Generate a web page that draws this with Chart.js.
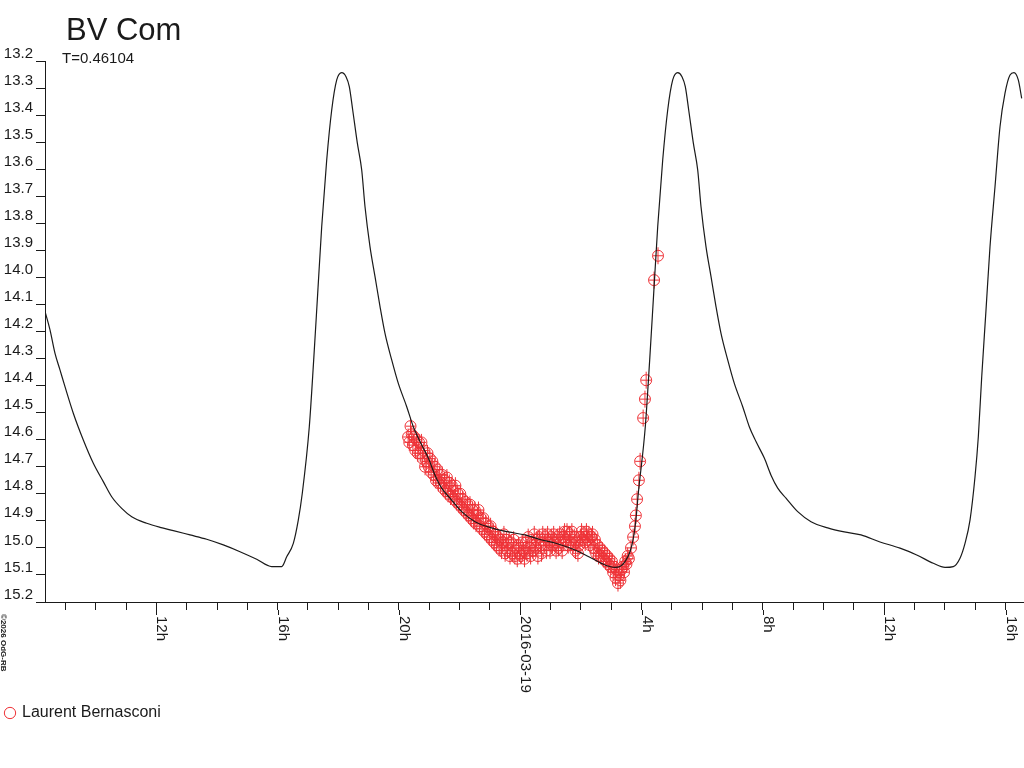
<!DOCTYPE html>
<html>
<head>
<meta charset="utf-8">
<script src="https://cdn.jsdelivr.net/npm/chart.js@4.4.1/dist/chart.umd.min.js"></script>
<style>html,body{margin:0;padding:0;background:#fff;overflow:hidden}#c{display:block}</style>
</head>
<body>
<canvas id="c" width="1024" height="768" style="width:1024px;height:768px"></canvas>
<script>
const chartTitle = 'BV Com';
const chartSubtitle = 'T=0.46104';
const observerName = 'Laurent Bernasconi';
const copyrightText = '\u00A92026 OdG-RB';

// x = hours relative to 2016-03-19 00:00 UT, y = magnitude
const xMinHour = -15.671;
const xMaxHour = 16.607;
const yMinMag = 13.2;
const yMaxMag = 15.2;
const yStepMag = 0.1;

const xTickHours = [-15,-14,-13,-12,-11,-10,-9,-8,-7,-6,-5,-4,-3,-2,-1,0,1,2,3,4,5,6,7,8,9,10,11,12,13,14,15,16];
const xLabelHours = [-12,-8,-4,0,4,8,12,16];
const xLabelTexts = ['12h','16h','20h','2016-03-19','4h','8h','12h','16h'];

const curveTimes = [
 -15.671,-15.506,-15.341,-15.177,-15.012,-14.738,-14.408,-14.078,-13.749,-13.472,
 -13.142,-12.812,-12.318,-11.879,-11.441,-10.890,-10.340,-9.792,-9.242,-8.691,
 -8.197,-7.867,-7.702,-7.484,-7.320,-7.188,-6.957,-6.812,-6.680,-6.548,
 -6.383,-6.218,-6.053,-5.888,-5.746,-5.638,-5.526,-5.374,-5.229,-5.120,
 -4.955,-4.790,-4.625,-4.461,-4.240,-4.022,-3.745,-3.528,-3.307,-3.033,
 -2.812,-2.592,-2.318,-1.932,-1.494,-0.943,-0.396,0.155,0.650,1.144,
 1.803,2.354,2.793,3.122,3.287,3.452,3.617,3.726,3.805,3.891,
 4.121,4.266,4.398,4.530,4.695,4.860,5.025,5.190,5.331,5.440,
 5.552,5.704,5.849,5.958,6.123,6.288,6.452,6.617,6.838,7.056,
 7.333,7.550,7.771,8.045,8.266,8.487,8.760,9.146,9.585,10.135,
 10.682,11.233,11.860,12.519,13.070,13.617,14.003,14.276,14.497,14.662,
 14.827,14.992,15.101,15.213,15.354,15.486,15.651,15.816,15.981,16.146,
 16.277,16.419,16.531
];
const curveMags = [
 14.126,14.194,14.281,14.342,14.404,14.502,14.601,14.687,14.755,14.811,
 14.854,14.885,14.909,14.924,14.936,14.952,14.968,14.989,15.014,15.042,
 15.069,15.069,15.033,14.983,14.897,14.798,14.552,14.305,14.059,13.813,
 13.566,13.381,13.270,13.243,13.258,13.295,13.381,13.503,13.603,13.739,
 13.887,13.997,14.108,14.207,14.305,14.392,14.478,14.552,14.607,14.668,
 14.731,14.779,14.816,14.866,14.903,14.926,14.941,14.952,14.969,14.982,
 15.008,15.038,15.063,15.072,15.069,15.051,15.014,14.965,14.903,14.798,
 14.552,14.305,14.059,13.813,13.566,13.381,13.270,13.243,13.258,13.295,
 13.381,13.503,13.603,13.739,13.887,13.997,14.108,14.207,14.305,14.392,
 14.478,14.552,14.607,14.668,14.731,14.779,14.816,14.866,14.903,14.926,
 14.941,14.952,14.978,15.001,15.026,15.057,15.072,15.069,15.038,14.983,
 14.897,14.737,14.589,14.367,14.121,13.887,13.665,13.443,13.319,13.252,
 13.243,13.270,13.338
];

const obsTimes = [
 -3.70,-3.66,-3.62,-3.58,-3.54,-3.50,-3.46,-3.42,-3.38,-3.34,-3.30,-3.26,-3.22,-3.18,-3.14,-3.10,-3.06,-3.02,-2.98,-2.94,-2.90,-2.86,-2.82,-2.78,-2.74,-2.70,-2.66,
 -2.62,-2.58,-2.54,-2.50,-2.46,-2.42,-2.38,-2.34,-2.30,-2.26,-2.22,-2.18,-2.14,-2.10,-2.06,-2.02,-1.98,-1.94,-1.90,-1.86,-1.82,-1.78,-1.74,-1.70,-1.66,-1.62,-1.58,-1.54,-1.50,-1.46,-1.42,-1.38,-1.34,-1.30,-1.26,-1.22,-1.18,-1.14,-1.10,-1.06,-1.02,-0.98,-0.94,-0.90,-0.86,-0.82,-0.78,-0.74,-0.70,-0.66,-0.62,-0.58,-0.54,-0.50,-0.46,-0.42,-0.38,-0.34,-0.30,-0.26,-0.22,-0.18,-0.14,-0.10,-0.06,-0.02,
 0.02,0.06,0.10,0.14,0.18,0.22,0.26,0.30,0.34,0.38,0.42,0.46,0.50,0.54,0.58,0.62,0.66,0.70,0.74,0.78,0.82,0.86,0.90,0.94,0.98,1.02,1.06,1.10,1.14,1.18,1.22,1.26,1.30,1.34,1.38,1.42,1.46,1.50,1.54,1.58,1.62,1.66,1.70,1.74,1.78,1.82,1.86,1.90,1.94,1.98,2.02,2.06,2.10,2.14,2.18,2.22,2.26,2.30,2.34,2.38,2.42,2.46,2.50,2.54,2.58,
 2.62,2.66,2.70,2.74,2.78,2.82,2.86,2.90,2.94,2.98,3.02,3.06,3.10,3.14,3.18,3.22,3.26,3.30,3.34,3.38,3.42,3.46,3.50,3.54,3.58,
 3.65,3.72,3.78,3.81,3.85,3.91,3.95,4.05,4.11,4.15,4.41,4.54
];
const obsMags = [
 14.59,14.61,14.55,14.58,14.62,14.59,14.64,14.60,14.65,14.61,14.65,14.61,14.67,14.64,14.70,14.68,14.65,14.70,14.67,14.72,14.68,14.73,14.70,14.75,14.71,14.76,14.73,
 14.76,14.73,14.78,14.75,14.79,14.74,14.80,14.76,14.81,14.77,
 14.79,14.82,14.77,14.83,14.80,14.84,14.80,14.85,14.82,14.86,
 14.83,14.87,14.84,14.88,14.84,14.89,14.86,14.90,14.86,14.91,
 14.88,14.86,14.92,14.89,14.93,14.89,14.94,14.91,14.95,14.92,
 14.96,14.92,14.97,14.94,14.98,14.95,14.99,14.96,15.00,14.97,
 15.01,14.98,14.95,15.02,14.97,15.01,14.98,15.03,14.98,15.02,
 14.97,15.03,15.00,15.04,14.99,15.02,
 15.03,14.98,15.01,15.04,14.98,15.02,14.96,15.00,15.03,14.98,
 15.01,14.95,15.00,14.97,15.03,14.96,14.99,15.02,14.95,14.99,
 14.96,15.01,14.95,14.98,15.01,14.96,14.99,14.95,14.98,15.01,
 14.96,15.00,14.95,14.98,15.01,14.96,14.94,14.97,14.94,14.99,
 14.95,14.98,14.94,14.99,14.96,15.01,14.98,15.02,14.99,14.96,
 14.94,14.97,14.95,14.98,14.94,14.97,14.95,14.99,14.96,14.95,
 15.00,14.97,15.02,14.99,15.03,
 15.00,15.03,15.01,15.04,15.02,15.05,15.03,15.06,15.04,15.07,15.05,15.09,15.07,15.11,15.08,15.13,15.10,15.12,15.08,15.07,15.09,15.05,15.06,15.03,15.04,
 15.00,14.96,14.92,14.88,14.82,14.75,14.68,14.52,14.45,14.38,14.01,13.92
];

const FONT = "'Liberation Sans', Arial, sans-serif";
const INK = '#1a1a1a';
const OBS_RED = '#ee3237';

const curvePoints = curveTimes.map((t, i) => ({ x: t, y: curveMags[i] }));
const obsPoints = obsTimes.map((t, i) => ({ x: t, y: obsMags[i] }));

Chart.defaults.font.family = FONT;
Chart.defaults.color = INK;

const decor = {
  id: 'decor',
  afterDraw(chart) {
    const ctx = chart.ctx;
    const xs = chart.scales.x;
    ctx.save();
    ctx.fillStyle = INK;
    ctx.strokeStyle = INK;
    ctx.lineWidth = 1;
    ctx.textAlign = 'left';
    ctx.textBaseline = 'alphabetic';
    ctx.font = '31px ' + FONT;
    ctx.fillText(chartTitle, 66, 40);
    ctx.font = '15px ' + FONT;
    ctx.fillText(chartSubtitle, 62, 63);

    const axisY = Math.round(xs.top) + 0.5;
    ctx.beginPath();
    ctx.moveTo(36, axisY);
    ctx.lineTo(chart.chartArea.left, axisY);
    ctx.stroke();

    xLabelHours.forEach((h, i) => {
      const px = Math.round(xs.getPixelForValue(h)) + 0.5;
      ctx.beginPath();
      ctx.moveTo(px, xs.top + 8);
      ctx.lineTo(px, xs.top + 13);
      ctx.stroke();
      ctx.save();
      ctx.translate(px + 0.5, xs.top + 14);
      ctx.rotate(Math.PI / 2);
      ctx.font = '15px ' + FONT;
      ctx.fillText(xLabelTexts[i], 0, 0);
      ctx.restore();
    });

    ctx.save();
    ctx.translate(1, 614);
    ctx.rotate(Math.PI / 2);
    ctx.font = 'bold 8px ' + FONT;
    ctx.fillText(copyrightText, 0, 0);
    ctx.restore();
    ctx.restore();
  }
};

new Chart(document.getElementById('c'), {
  type: 'scatter',
  data: {
    datasets: [
      {
        type: 'line',
        label: 'model',
        data: curvePoints,
        borderColor: INK,
        borderWidth: 1.2,
        pointRadius: 0,
        fill: false,
        cubicInterpolationMode: 'monotone'
      },
      {
        label: observerName,
        data: obsPoints,
        pointStyle: 'circle',
        pointRadius: 5.5,
        borderColor: OBS_RED,
        pointBorderColor: OBS_RED,
        backgroundColor: 'rgba(0,0,0,0)',
        pointBackgroundColor: 'rgba(0,0,0,0)',
        borderWidth: 1,
        pointBorderWidth: 1
      },
      {
        label: 'errbar-v',
        data: obsPoints,
        pointStyle: 'line',
        pointRotation: 90,
        pointRadius: 8.5,
        borderColor: OBS_RED,
        pointBorderColor: OBS_RED,
        borderWidth: 1,
        pointBorderWidth: 1
      },
      {
        label: 'errbar-h',
        data: obsPoints,
        pointStyle: 'line',
        pointRadius: 5,
        borderColor: OBS_RED,
        pointBorderColor: OBS_RED,
        borderWidth: 1,
        pointBorderWidth: 1
      }
    ]
  },
  options: {
    responsive: false,
    animation: false,
    devicePixelRatio: 1,
    events: [],
    layout: { autoPadding: false, padding: { top: 61, left: 0, right: 0, bottom: 37 } },
    plugins: {
      legend: {
        position: 'bottom',
        align: 'start',
        labels: {
          usePointStyle: true,
          boxWidth: 8,
          boxHeight: 8,
          padding: 6,
          color: INK,
          font: { size: 16 },
          filter: item => item.text === observerName
        }
      },
      tooltip: { enabled: false },
      title: { display: false }
    },
    scales: {
      x: {
        type: 'linear',
        min: xMinHour,
        max: xMaxHour,
        bounds: 'data',
        afterBuildTicks: s => { s.ticks = xTickHours.map(v => ({ value: v })); },
        afterFit: s => { s.height = 97; },
        ticks: { display: false },
        grid: { drawOnChartArea: false, drawTicks: true, tickLength: 8, tickColor: INK, tickWidth: 1 },
        border: { display: true, color: INK, width: 1 }
      },
      y: {
        type: 'linear',
        reverse: true,
        min: yMinMag,
        max: yMaxMag,
        afterFit: s => { s.width = 45; },
        ticks: {
          stepSize: yStepMag,
          autoSkip: false,
          padding: 3,
          color: INK,
          font: { size: 15, lineHeight: 1 },
          callback: v => [Number(v).toFixed(1), '']
        },
        grid: { drawOnChartArea: false, drawTicks: true, tickLength: 9, tickColor: INK, tickWidth: 1 },
        border: { display: true, color: INK, width: 1 }
      }
    }
  },
  plugins: [decor]
});
</script>
</body>
</html>
